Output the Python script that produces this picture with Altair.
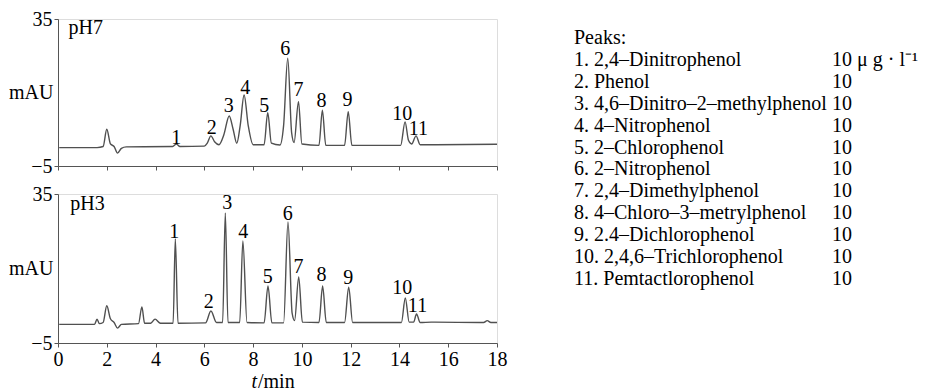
import altair as alt
import pandas as pd

FONT = "Liberation Serif"

# ---- pH7 chromatogram (retention time in min, absorbance in mAU) ----
t_ph7 = [0.05, 1.6, 1.85, 2.0, 2.15, 2.3, 2.44, 2.6, 2.8, 4.7, 4.85, 5.0, 6.0, 6.12, 6.27, 6.42, 6.6,
         6.8, 7.02, 7.18, 7.33, 7.47, 7.63, 7.8, 8.0, 8.45, 8.6, 8.75, 9.1, 9.25, 9.42, 9.58, 9.68,
         9.86, 10.0, 10.7, 10.84, 10.98, 11.75, 11.9, 12.05, 14.05, 14.23, 14.37, 14.5, 14.68, 14.85,
         15.5, 18.0]
a_ph7 = [0.0, 0.0, 0.3, 5.0, 1.0, 0.3, -1.5, -0.2, 0.2, 0.3, 1.0, 0.3, 0.4, 1.2, 3.2, 1.6, 0.8,
         3.5, 8.6, 5.0, 1.2, 6.0, 14.3, 6.0, 0.8, 0.8, 9.5, 1.2, 0.7, 6.0, 24.3, 4.0, 1.4,
         12.5, 1.0, 0.6, 10.2, 0.6, 0.6, 9.8, 0.6, 0.6, 7.0, 2.0, 1.0, 3.2, 0.8,
         0.8, 0.9]

# ---- pH3 chromatogram ----
t_ph3 = [0.05, 1.5, 1.6, 1.7, 1.85, 2.0, 2.15, 2.3, 2.44, 2.6, 3.3, 3.44, 3.55, 3.8, 3.98, 4.2,
         4.72, 4.81, 4.92, 6.05, 6.27, 6.5, 6.75, 6.86, 6.97, 7.45, 7.58, 7.75, 8.45, 8.61, 8.77,
         9.25, 9.43, 9.6, 9.7, 9.87, 10.02, 10.7, 10.85, 11.0, 11.75, 11.92, 12.08, 14.08, 14.24,
         14.4, 14.58, 14.7, 14.85, 15.3, 17.45, 17.6, 17.75, 18.0]
a_ph3 = [0.0, 0.0, 1.4, 0.2, 0.5, 5.0, 1.5, 0.5, -1.0, 0.0, 0.2, 4.7, 0.3, 0.3, 1.4, 0.3,
         0.3, 22.9, 0.3, 0.4, 3.6, 0.5, 0.5, 29.9, 0.5, 0.5, 22.4, 0.5, 0.4, 10.3, 0.4,
         0.4, 27.5, 3.0, 1.0, 12.7, 0.6, 0.5, 10.3, 0.5, 0.5, 10.0, 0.5, 0.5, 7.1,
         0.6, 0.6, 2.8, 0.5, 0.6, 0.5, 1.0, 0.5, 0.5]

# ---- peak number labels ----
peak_ids = ["1", "2", "3", "4", "5", "6", "7", "8", "9", "10", "11"]
lab_ph7_t = [4.85, 6.3, 7.0, 7.68, 8.46, 9.32, 9.86, 10.8, 11.87, 14.12, 14.78]
lab_ph7_a = [2.7, 5.4, 11.4, 16.2, 11.4, 26.9, 15.7, 12.7, 13.0, 9.2, 5.1]
lab_ph3_t = [4.77, 6.18, 6.94, 7.6, 8.6, 9.42, 9.86, 10.8, 11.9, 14.12, 14.74]
lab_ph3_a = [24.9, 6.1, 32.6, 24.9, 12.8, 29.7, 15.5, 13.3, 12.5, 9.8, 4.9]

panel_names = ["pH7", "pH3"]
panel_name_t = [0.43, 0.5]
panel_name_a = [32.5, 32.2]

x_ticks = [0, 2, 4, 6, 8, 10, 12, 14, 16, 18]
y_ticks = [-5, 35]

legend_names = ["Peaks:", "1. 2,4–Dinitrophenol", "2. Phenol", "3. 4,6–Dinitro–2–methylphenol",
                "4. 4–Nitrophenol", "5. 2–Chlorophenol", "6. 2–Nitrophenol", "7. 2,4–Dimethylphenol",
                "8. 4–Chloro–3–metrylphenol", "9. 2.4–Dichlorophenol", "10. 2,4,6–Trichlorophenol",
                "11. Pemtactlorophenol"]
legend_amounts = ["", "10 μ g · l⁻¹", "10", "10", "10", "10", "10", "10", "10", "10", "10", "10"]

W, H_TOP, H_BOT = 439, 147, 149
LINE_COLOR = "#505050"
AXIS_COLOR = "#555555"


def panel(t, a, lt, la, idx, h, bottom):
    xs = alt.Scale(domain=[0, 18], nice=False, zero=False)
    ys = alt.Scale(domain=[-5, 35], nice=False, zero=False)
    xaxis = alt.Axis(values=x_ticks, labels=bottom, title=None, grid=False, tickSize=4,
                     labelFlush=False, labelFont=FONT, labelFontSize=20, labelColor="black",
                     domainColor=AXIS_COLOR, tickColor=AXIS_COLOR, labelPadding=2, format="d")
    yaxis = alt.Axis(values=y_ticks, title="mAU", titleAngle=0, titleAlign="right",
                     titleBaseline="middle", titleX=-5, titleY=h / 2, titleFont=FONT,
                     titleFontSize=20, titleFontWeight="normal", titleColor="black",
                     grid=False, tickSize=4, labelFont=FONT, labelFontSize=20,
                     labelColor="black", labelPadding=2, labelFlush=False,
                     domainColor=AXIS_COLOR, tickColor=AXIS_COLOR, format="d")
    df = pd.DataFrame({"t": t, "a": a})
    line = alt.Chart(df).mark_line(color=LINE_COLOR, strokeWidth=1.4,
                                   interpolate="monotone").encode(
        x=alt.X("t:Q", scale=xs, axis=xaxis),
        y=alt.Y("a:Q", scale=ys, axis=yaxis),
    )
    ldf = pd.DataFrame({"t": lt, "a": la, "s": peak_ids})
    labels = alt.Chart(ldf).mark_text(font=FONT, fontSize=20, color="black",
                                      baseline="middle").encode(
        x=alt.X("t:Q", scale=xs), y=alt.Y("a:Q", scale=ys), text="s:N")
    ndf = pd.DataFrame({"t": [panel_name_t[idx]], "a": [panel_name_a[idx]],
                        "s": [panel_names[idx]]})
    name = alt.Chart(ndf).mark_text(font=FONT, fontSize=20, color="black", align="left",
                                    baseline="middle").encode(
        x=alt.X("t:Q", scale=xs), y=alt.Y("a:Q", scale=ys), text="s:N")
    layers = [line, labels, name]
    if bottom:
        tdf = pd.DataFrame({"s": ["t"]})
        t_it = alt.Chart(tdf).mark_text(font=FONT, fontSize=20, fontStyle="italic",
                                        color="black", align="right", baseline="middle").encode(
            x=alt.value(199), y=alt.value(h + 39), text="s:N")
        mdf = pd.DataFrame({"s": ["/min"]})
        t_min = alt.Chart(mdf).mark_text(font=FONT, fontSize=20, color="black", align="left",
                                         baseline="middle").encode(
            x=alt.value(200), y=alt.value(h + 39), text="s:N")
        layers += [t_it, t_min]
    return alt.layer(*layers).properties(width=W, height=h)


top = panel(t_ph7, a_ph7, lab_ph7_t, lab_ph7_a, 0, H_TOP, False)
bot = panel(t_ph3, a_ph3, lab_ph3_t, lab_ph3_a, 1, H_BOT, True)
left = alt.vconcat(top, bot, spacing=6)

rows = list(range(len(legend_names)))
gdf = pd.DataFrame({"row": rows, "name": legend_names, "amt": legend_amounts})
ly = alt.Y("row:Q", scale=alt.Scale(domain=[-0.867, 12.826], reverse=True, nice=False, zero=False),
           axis=None)
leg_names = alt.Chart(gdf).mark_text(font=FONT, fontSize=20, color="black", align="left",
                                     baseline="middle").encode(
    x=alt.value(0), y=ly, text="name:N")
leg_amt = alt.Chart(gdf).mark_text(font=FONT, fontSize=20, color="black", align="left",
                                   baseline="middle").encode(
    x=alt.value(258), y=ly, text="amt:N")
legend = alt.layer(leg_names, leg_amt).properties(width=340, height=300,
                                                  view=alt.ViewConfig(stroke=None))

chart = alt.hconcat(left, legend, spacing=66).properties(
    padding={"left": 0, "top": 0, "right": 0, "bottom": 0}
).configure_view(stroke=None).configure(background="white")

chart.save("out.html", embed_options={"renderer": "svg", "actions": False})
